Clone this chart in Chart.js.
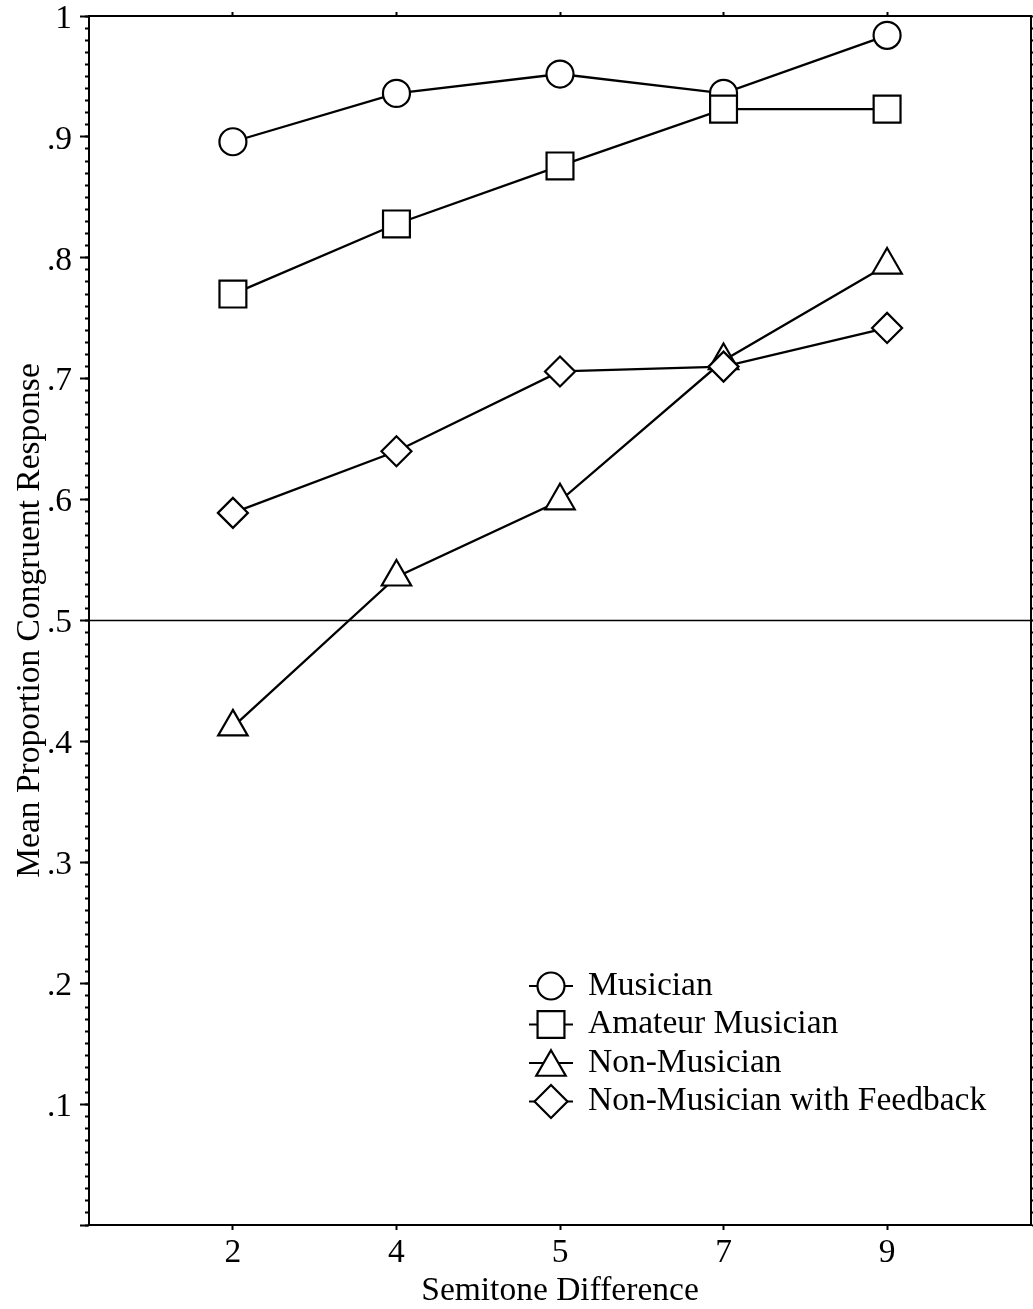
<!DOCTYPE html>
<html><head><meta charset="utf-8">
<script src="https://cdn.jsdelivr.net/npm/chart.js@4/dist/chart.umd.min.js"></script>
<style>html,body{margin:0;padding:0;background:#fff;}canvas{display:block;}</style>
</head><body>
<canvas id="c" width="1033" height="1309" style="width:1033px;height:1309px"></canvas>
<script>
// ---- data ----
const categories = ['2', '4', '5', '7', '9'];
const seriesNames = ['Musician', 'Amateur Musician', 'Non-Musician', 'Non-Musician with Feedback'];
const musician = [0.896, 0.936, 0.952, 0.936, 0.984];
const amateurMusician = [0.770, 0.828, 0.876, 0.923, 0.923];
const nonMusician = [0.412, 0.536, 0.599, 0.715, 0.794];
const nonMusicianFeedback = [0.589, 0.640, 0.706, 0.710, 0.742];
const yMajorTicks = [0, 0.1, 0.2, 0.3, 0.4, 0.5, 0.6, 0.7, 0.8, 0.9, 1];
const yTickLabels = ['', '.1', '.2', '.3', '.4', '.5', '.6', '.7', '.8', '.9', '1'];
const chanceLevel = 0.5;
const xTitle = 'Semitone Difference';
const yTitle = 'Mean Proportion Congruent Response';

// ---- derived tick positions ----
const catPositions = categories.map((c, i) => i + 1);
const yMinorTicks = [];
for (let i = 0; i <= 100; i++) yMinorTicks.push(i / 100);
const toXY = arr => arr.map((v, i) => ({ x: catPositions[i], y: v }));

const FONT = "'Liberation Serif', 'Times New Roman', serif";
const FONT_SIZE = 33.5;
Chart.defaults.font.family = FONT;
Chart.defaults.color = '#000';

function setTicks(list) {
  return s => { s.ticks = list.map(v => ({ value: v })); };
}
function fixSize(prop, val) {
  return s => { s[prop] = val; s.paddingTop = 0; s.paddingBottom = 0; s.paddingLeft = 0; s.paddingRight = 0; };
}

function drawMarker(ctx, style, r, x, y) {
  ctx.beginPath();
  if (style === 'circle') {
    ctx.arc(x, y, r, 0, Math.PI * 2);
  } else if (style === 'rect') {
    const h = r * Math.SQRT1_2;
    ctx.rect(x - h, y - h, 2 * h, 2 * h);
  } else if (style === 'triangle') {
    ctx.moveTo(x, y - r * 0.75);
    ctx.lineTo(x + r * Math.sin(Math.PI / 3), y + r * 0.75);
    ctx.lineTo(x - r * Math.sin(Math.PI / 3), y + r * 0.75);
    ctx.closePath();
  } else if (style === 'rectRot') {
    ctx.moveTo(x - r, y); ctx.lineTo(x, y - r); ctx.lineTo(x + r, y); ctx.lineTo(x, y + r);
    ctx.closePath();
  }
  ctx.fill();
  ctx.stroke();
}

const chanceLinePlugin = {
  id: 'chanceLine',
  beforeDatasetsDraw(chart) {
    const { ctx, chartArea } = chart;
    const y = chart.scales.y.getPixelForValue(chanceLevel);
    ctx.save();
    ctx.strokeStyle = '#000';
    ctx.lineWidth = 1.5;
    ctx.beginPath();
    ctx.moveTo(chartArea.left, y);
    ctx.lineTo(chartArea.right, y);
    ctx.stroke();
    ctx.restore();
  }
};

const inlineLegendPlugin = {
  id: 'inlineLegend',
  afterDraw(chart, args, opts) {
    const ctx = chart.ctx;
    ctx.save();
    chart.data.datasets.forEach((ds, i) => {
      const y = opts.top + i * opts.rowGap;
      ctx.strokeStyle = '#000';
      ctx.lineWidth = 2.2;
      ctx.beginPath();
      ctx.moveTo(opts.stubLeft, y);
      ctx.lineTo(opts.stubRight, y);
      ctx.stroke();
      ctx.fillStyle = '#fff';
      drawMarker(ctx, ds.pointStyle, opts.sizes[ds.pointStyle], opts.markerX, y);
      ctx.fillStyle = '#000';
      ctx.font = FONT_SIZE + 'px ' + FONT;
      ctx.textAlign = 'left';
      ctx.textBaseline = 'alphabetic';
      ctx.fillText(ds.label, opts.textX, y + opts.baselineOffset);
    });
    ctx.restore();
  }
};

const common = {
  borderColor: '#000',
  borderWidth: 2.3,
  backgroundColor: '#fff',
  pointBackgroundColor: '#fff',
  pointBorderColor: '#000',
  pointBorderWidth: 2.2,
  pointHoverRadius: 0,
  tension: 0,
  fill: false,
  xAxisID: 'x',
  yAxisID: 'y'
};

const tickFont = { family: FONT, size: FONT_SIZE };

new Chart(document.getElementById('c'), {
  type: 'line',
  data: {
    datasets: [
      { ...common, label: seriesNames[0], data: toXY(musician), pointStyle: 'circle', pointRadius: 13.5, order: 4 },
      { ...common, label: seriesNames[1], data: toXY(amateurMusician), pointStyle: 'rect', pointRadius: 19, order: 3 },
      { ...common, label: seriesNames[2], data: toXY(nonMusician), pointStyle: 'triangle', pointRadius: 17, order: 2 },
      { ...common, label: seriesNames[3], data: toXY(nonMusicianFeedback), pointStyle: 'rectRot', pointRadius: 15, order: 1 }
    ]
  },
  options: {
    responsive: false,
    devicePixelRatio: 1,
    animation: false,
    events: [],
    layout: { padding: 0, autoPadding: false },
    plugins: {
      legend: { display: false },
      tooltip: { enabled: false },
      inlineLegend: {
        top: 986, rowGap: 38.5, stubLeft: 529, stubRight: 573, markerX: 551, textX: 588, baselineOffset: 8.5,
        sizes: { circle: 13.5, rect: 19, triangle: 17, rectRot: 16.5 }
      }
    },
    scales: {
      x: {
        type: 'linear', position: 'bottom', min: 0.12, max: 5.88,
        afterBuildTicks: setTicks(catPositions),
        afterFit: fixSize('height', 84),
        ticks: { font: tickFont, color: '#000', padding: 3, autoSkip: false, maxRotation: 0,
                 callback: v => categories[catPositions.indexOf(v)] ?? '' },
        grid: { display: true, drawOnChartArea: false, drawTicks: true, tickLength: 5, tickColor: '#000', tickWidth: 2 },
        border: { display: true, color: '#000', width: 2 },
        title: { display: true, text: xTitle, font: tickFont, color: '#000', padding: { top: 0, bottom: -2 } }
      },
      xTop: {
        type: 'linear', position: 'top', min: 0.12, max: 5.88,
        afterBuildTicks: setTicks(catPositions),
        afterFit: fixSize('height', 16),
        ticks: { display: false },
        grid: { display: true, drawOnChartArea: false, drawTicks: true, tickLength: 4, tickColor: '#000', tickWidth: 2 },
        border: { display: true, color: '#000', width: 2 }
      },
      y: {
        type: 'linear', position: 'left', min: 0, max: 1, weight: 2,
        afterBuildTicks: setTicks(yMajorTicks),
        afterFit: fixSize('width', 89),
        ticks: { font: tickFont, color: '#000', padding: 8, autoSkip: false, labelOffset: 3,
                 callback: v => yTickLabels[yMajorTicks.findIndex(t => Math.abs(t - v) < 1e-9)] ?? '' },
        grid: { display: true, drawOnChartArea: false, drawTicks: true, tickLength: 9, tickColor: '#000', tickWidth: 2 },
        border: { display: true, color: '#000', width: 2 },
        title: { display: true, text: yTitle, font: tickFont, color: '#000', padding: { top: 10, bottom: 0 } }
      },
      yMinor: {
        type: 'linear', position: 'left', min: 0, max: 1, weight: 1,
        afterBuildTicks: setTicks(yMinorTicks),
        afterFit: fixSize('width', 0),
        ticks: { display: false },
        grid: { display: true, drawOnChartArea: false, drawTicks: true, tickLength: 4, tickColor: '#000', tickWidth: 2 },
        border: { display: false }
      },
      yRight: {
        type: 'linear', position: 'right', min: 0, max: 1,
        afterBuildTicks: setTicks(yMinorTicks),
        afterFit: fixSize('width', 2),
        ticks: { display: false },
        grid: { display: true, drawOnChartArea: false, drawTicks: true, tickLength: 4, tickColor: '#000', tickWidth: 2 },
        border: { display: true, color: '#000', width: 2 }
      }
    }
  },
  plugins: [chanceLinePlugin, inlineLegendPlugin]
});
</script>
</body></html>
